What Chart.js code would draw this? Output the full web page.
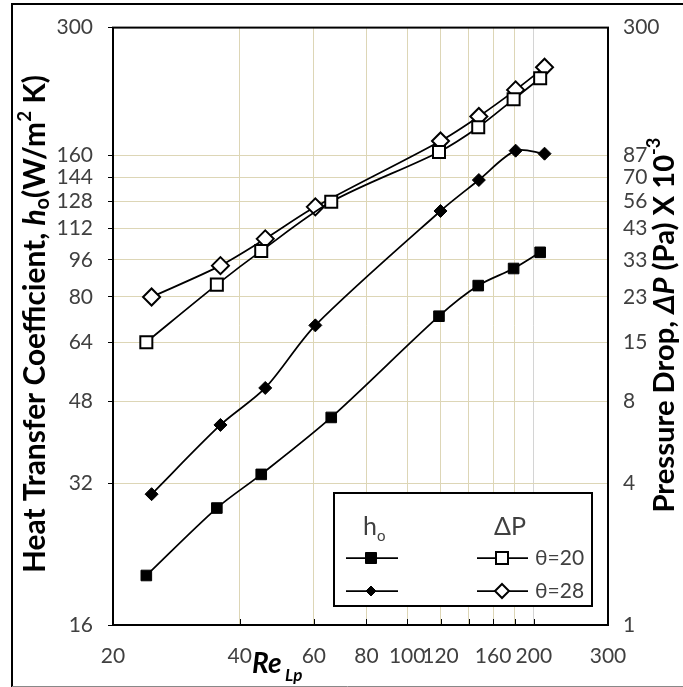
<!DOCTYPE html>
<html><head><meta charset="utf-8">
<script src="https://cdn.jsdelivr.net/npm/chart.js@4/dist/chart.umd.min.js"></script>
<style>html,body{margin:0;padding:0;background:#fff}canvas{display:block}</style>
</head><body>
<canvas id="c" width="683" height="687"></canvas>
<script>
// Reynolds number (Re_Lp) for each fin angle
const reTheta20 = [24, 35.3, 45, 66, 119, 147.5, 179, 207];
const reTheta28 = [24.7, 36, 46, 60.5, 120, 148, 181, 212];
// Heat transfer coefficient h_o (W/m2 K)
const hoTheta20 = [20.4, 28.4, 33.5, 44.3, 72.8, 84.6, 92, 99.6];
const hoTheta28 = [30.4, 42.7, 51.2, 69.6, 122, 142, 164, 161.6];
// Pressure drop series, in the units of the (relabelled) right axis scale
const dpTheta20 = [64.1, 85, 100.3, 127.6, 163, 184, 211, 234];
const dpTheta28 = [80, 93.3, 106.4, 124.5, 172, 194, 221, 247];
// Tick values and labels
const xTickValues = [20, 40, 60, 80, 100, 120, 140, 160, 180, 200, 300];
const xTickLabels = ['20', '40', '60', '80', '100', '120', '', '160', '', '200', '300'];
const yTickValues = [16, 32, 48, 64, 80, 96, 112, 128, 144, 160, 300];
const yTickLabels = ['16', '32', '48', '64', '80', '96', '112', '128', '144', '160', '300'];
const dpTickLabels = ['1', '4', '8', '15', '23', '33', '43', '56', '70', '87', '300'];

const pts = (xs, ys) => xs.map((x, i) => ({x: x, y: ys[i]}));
const FONT = 'Lato, "Open Sans", sans-serif';
const TICK_COLOR = '#404040';
const GRID = '#ddd6b6';

Chart.defaults.font.family = FONT;

function drawMarker(ctx, style, x, y, r, fill, lw) {
  ctx.save();
  ctx.beginPath();
  if (style === 'rect') {
    ctx.rect(x - r, y - r, 2 * r, 2 * r);
  } else {
    ctx.moveTo(x, y - r); ctx.lineTo(x + r, y); ctx.lineTo(x, y + r); ctx.lineTo(x - r, y); ctx.closePath();
  }
  ctx.fillStyle = fill; ctx.fill();
  ctx.lineWidth = lw; ctx.strokeStyle = '#000'; ctx.stroke();
  ctx.restore();
}

// draws rich text segments centred at origin, scaled so the whole run is targetLen long
function drawRich(ctx, segs, targetLen) {
  const fontOf = (s, k) => (s.style || '') + ' bold ' + (s.size * k).toFixed(2) + 'px ' + FONT;
  let total = 0;
  segs.forEach(s => { ctx.font = fontOf(s, 1); total += ctx.measureText(s.t).width; });
  const k = targetLen / total;
  let x = -targetLen / 2;
  segs.forEach(s => {
    ctx.font = fontOf(s, k);
    ctx.fillText(s.t, x, (s.dy || 0) * k);
    x += ctx.measureText(s.t).width;
  });
}

const decor = {
  id: 'decor',
  afterDraw(chart) {
    const ctx = chart.ctx;
    const a = chart.chartArea;
    const xs = chart.scales.x;
    ctx.save();
    // outer frame
    ctx.strokeStyle = '#000'; ctx.lineWidth = 2;
    ctx.beginPath(); ctx.moveTo(12, 687); ctx.lineTo(12, 4); ctx.lineTo(683, 4); ctx.stroke();
    ctx.strokeStyle = '#888'; ctx.lineWidth = 1;
    ctx.beginPath(); ctx.moveTo(12, 686.5); ctx.lineTo(683, 686.5); ctx.stroke();
    // plot frame
    ctx.strokeStyle = '#000'; ctx.lineWidth = 2;
    ctx.strokeRect(a.left, a.top, a.right - a.left, a.bottom - a.top);
    // inner ticks on x axis
    ctx.lineWidth = 1;
    xTickValues.forEach(v => {
      if (v === 20 || v === 300) return;
      const px = Math.round(xs.getPixelForValue(v)) + 0.5;
      ctx.beginPath(); ctx.moveTo(px, a.bottom); ctx.lineTo(px, a.bottom - 6); ctx.stroke();
    });
    // left axis title
    ctx.fillStyle = '#000';
    ctx.textBaseline = 'middle';
    ctx.textAlign = 'left';
    ctx.save();
    ctx.translate(35, 324); ctx.rotate(-Math.PI / 2);
    drawRich(ctx, [
      {t: 'Heat Transfer Coefficient, ', size: 24},
      {t: 'h', size: 24, style: 'italic'},
      {t: 'o', size: 16, dy: 6},
      {t: '(W/m', size: 24},
      {t: '2', size: 15, dy: -8},
      {t: ' K)', size: 24}
    ], 498);
    ctx.restore();
    // right axis title
    ctx.save();
    ctx.translate(665, 325); ctx.rotate(-Math.PI / 2);
    drawRich(ctx, [
      {t: 'Pressure Drop, ', size: 24},
      {t: '\u0394P', size: 24, style: 'italic'},
      {t: ' (Pa) X 10', size: 24},
      {t: '-3', size: 15, dy: -9}
    ], 375);
    ctx.restore();
    // x axis title
    ctx.textBaseline = 'alphabetic'; ctx.textAlign = 'left';
    ctx.font = 'italic bold 28px ' + FONT;
    ctx.fillText('Re', 252, 673);
    ctx.font = 'italic bold 17px ' + FONT;
    ctx.fillText('Lp', 285, 681);
    // legend
    ctx.fillStyle = '#fff';
    ctx.fillRect(334, 493, 258, 113);
    ctx.strokeStyle = '#000'; ctx.lineWidth = 2;
    ctx.strokeRect(334, 493, 258, 113);
    ctx.fillStyle = TICK_COLOR;
    ctx.font = '25px ' + FONT;
    ctx.fillText('h', 363, 535);
    ctx.font = '15px ' + FONT;
    ctx.fillText('o', 377, 541);
    ctx.font = '25px ' + FONT;
    ctx.fillText('\u0394P', 494, 535);
    ctx.font = '21px ' + FONT;
    ctx.textBaseline = 'middle';
    ctx.fillText('\u03b8=20', 535, 558);
    ctx.fillText('\u03b8=28', 535, 591);
    ctx.strokeStyle = '#000'; ctx.lineWidth = 1.75;
    [558, 591].forEach(y => {
      ctx.beginPath(); ctx.moveTo(346, y); ctx.lineTo(398, y); ctx.stroke();
      ctx.beginPath(); ctx.moveTo(477, y); ctx.lineTo(528, y); ctx.stroke();
    });
    drawMarker(ctx, 'rect', 371, 558, 5.5, '#000', 1);
    drawMarker(ctx, 'rectRot', 371, 591, 5, '#000', 1);
    drawMarker(ctx, 'rect', 502, 558, 6, '#fff', 2);
    drawMarker(ctx, 'rectRot', 502, 591, 7, '#fff', 2);
    ctx.restore();
  }
};

const common = {borderColor: '#000', borderWidth: 1.75, tension: 0.3, pointBorderColor: '#000'};

new Chart(document.getElementById('c'), {
  type: 'line',
  data: {
    datasets: [
      Object.assign({label: 'h_o \u03b8=20', data: pts(reTheta20, hoTheta20), yAxisID: 'y',
        pointStyle: 'rect', pointRadius: 7.5, pointBackgroundColor: '#000', pointBorderWidth: 1}, common),
      Object.assign({label: 'h_o \u03b8=28', data: pts(reTheta28, hoTheta28), yAxisID: 'y',
        pointStyle: 'rectRot', pointRadius: 6.5, pointBackgroundColor: '#000', pointBorderWidth: 1}, common),
      Object.assign({label: '\u0394P \u03b8=20', data: pts(reTheta20, dpTheta20), yAxisID: 'y2',
        pointStyle: 'rect', pointRadius: 8.5, pointBackgroundColor: '#fff', pointBorderWidth: 2}, common),
      Object.assign({label: '\u0394P \u03b8=28', data: pts(reTheta28, dpTheta28), yAxisID: 'y2',
        pointStyle: 'rectRot', pointRadius: 8.5, pointBackgroundColor: '#fff', pointBorderWidth: 2}, common)
    ]
  },
  options: {
    responsive: false,
    animation: false,
    layout: {padding: {top: 25, left: 0, right: 0, bottom: 0}},
    plugins: {legend: {display: false}, tooltip: {enabled: false}},
    scales: {
      x: {
        type: 'logarithmic', position: 'bottom', min: 20, max: 300,
        afterBuildTicks: s => { s.ticks = xTickValues.map(v => ({value: v})); },
        afterFit: s => { s.height = 62; },
        ticks: {autoSkip: false, maxRotation: 0, minRotation: 0, padding: 19, color: TICK_COLOR,
          font: {size: 21}, callback: (v, i) => xTickLabels[i]},
        grid: {color: c => (c.tick && c.tick.value === 200) ? '#d4d4d4' : GRID, drawTicks: false, lineWidth: 1},
        border: {color: '#000', width: 2}
      },
      y: {
        type: 'logarithmic', position: 'left', min: 16, max: 300,
        afterBuildTicks: s => { s.ticks = yTickValues.map(v => ({value: v})); },
        afterFit: s => { s.width = 113; },
        ticks: {autoSkip: false, padding: 15, color: TICK_COLOR, font: {size: 21},
          callback: (v, i) => yTickLabels[i]},
        grid: {color: GRID, drawTicks: true, tickLength: 5, tickColor: '#000', lineWidth: 1},
        border: {color: '#000', width: 2}
      },
      y2: {
        type: 'logarithmic', position: 'right', min: 16, max: 300,
        afterBuildTicks: s => { s.ticks = yTickValues.map(v => ({value: v})); },
        afterFit: s => { s.width = 75; },
        ticks: {autoSkip: false, padding: 15, color: TICK_COLOR, font: {size: 21},
          callback: (v, i) => dpTickLabels[i]},
        grid: {drawOnChartArea: false, drawTicks: false},
        border: {color: '#000', width: 2}
      }
    }
  },
  plugins: [decor]
});
</script>
</body></html>
